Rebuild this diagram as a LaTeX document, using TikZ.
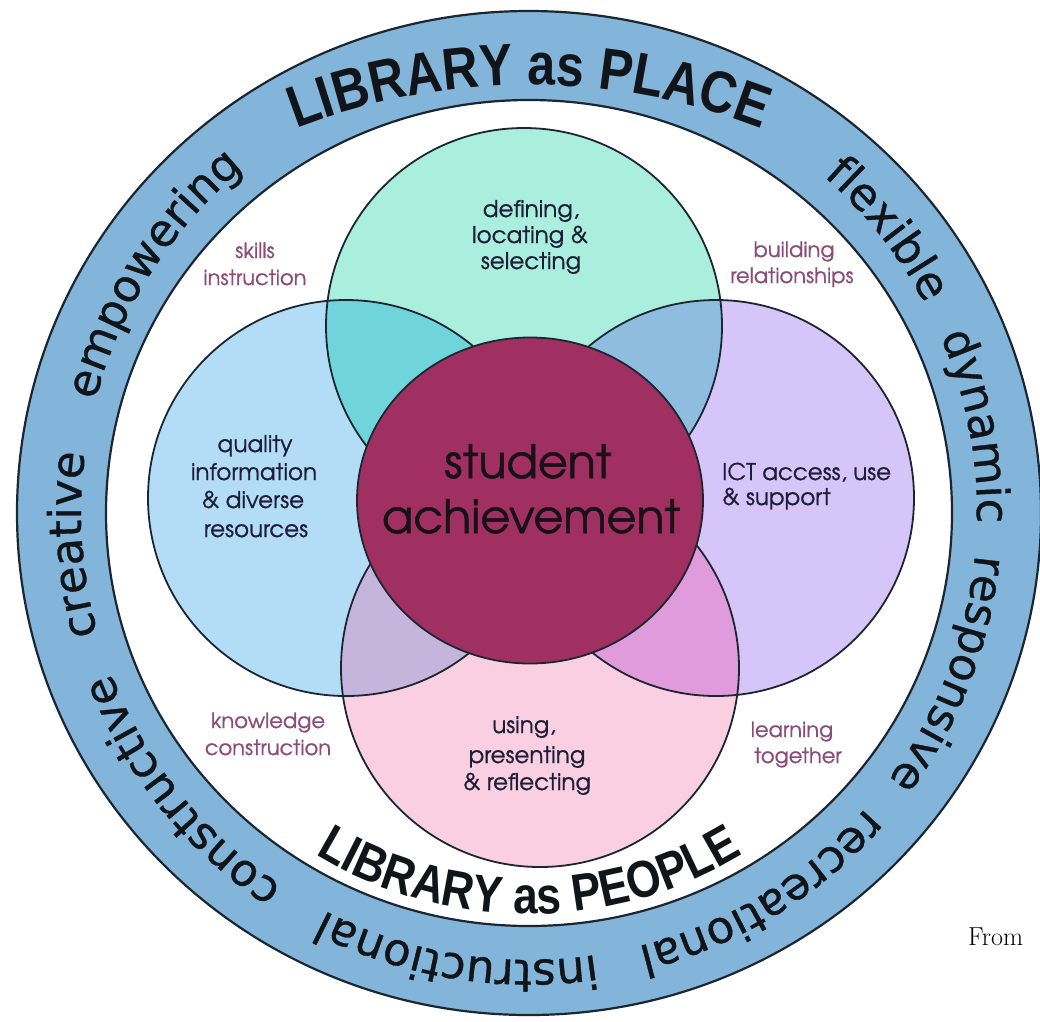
\documentclass[tikz,border=0pt]{standalone}
\usepackage{fontspec}
\usetikzlibrary{decorations.text}
\newfontfamily\gothic{texgyreadventor}[Extension=.otf, UprightFont=*-regular, BoldFont=*-bold, FakeBold=0.7]
\newfontfamily\gothicc{texgyreadventor}[Extension=.otf, UprightFont=*-regular, BoldFont=*-bold, FakeBold=1.1]
\newfontfamily\ringfont{DejaVu Sans}[FakeBold=0.8]
\newfontfamily\capfont{Liberation Sans}[FakeStretch=0.85]
\definecolor{ringblue}{HTML}{82B5D9}
\definecolor{cgreen}{HTML}{AAEEDD}
\definecolor{cblue}{HTML}{B3DDF7}
\definecolor{cpurple}{HTML}{D6C5F8}
\definecolor{cpink}{HTML}{F9CFE1}
\definecolor{cmaroon}{HTML}{A03062}
\definecolor{lensGB}{HTML}{6FD5DA}
\definecolor{lensGP}{HTML}{8FBDE0}
\definecolor{lensBK}{HTML}{C5B5DD}
\definecolor{lensPK}{HTML}{E09BDD}
\definecolor{linec}{HTML}{1C2630}
\definecolor{mauve}{HTML}{8A4C78}
\definecolor{navy}{HTML}{1E1E38}
\definecolor{corec}{HTML}{1A1018}
\definecolor{ringtxt}{HTML}{111418}
\newcommand\ringword[4]{% center angle, half span, font, text
  \path[shift={(529,-513)}, decorate, decoration={text along path, text align=center, text color=ringtxt, text={|#3|#4}}]
    ({#1+#2}:448pt and 447pt) arc[start angle={#1+#2}, end angle={#1-#2}, x radius=448pt, y radius=447pt];}
\tikzset{
  lbl/.style={anchor=base, inner sep=0pt, text=navy, font=\gothic\fontsize{23}{23}\selectfont},
  side/.style={anchor=base, inner sep=0pt, text=mauve, font=\gothic\fontsize{21}{21}\selectfont},
  core/.style={anchor=base, inner sep=0pt, text=corec, font=\gothicc\fontsize{46}{46}\selectfont},
  outl/.style={draw=linec, line width=1.8pt},
}
\def\rf{\ringfont\fontsize{45}{45}\selectfont}
\begin{document}
\begin{tikzpicture}[x=1pt, y=1pt]
\useasboundingbox (0,0) rectangle (1040,-1021);
\clip (0,0) rectangle (1040,-1021);
\fill[white] (0,0) rectangle (1040,-1021);
% outer ring
\coordinate (O) at (529,-513);
\fill[ringblue, even odd rule] (O) ellipse[x radius=512pt, y radius=502pt] (O) ellipse[x radius=423pt, y radius=413pt];
\draw[linec, line width=2.2pt] (O) ellipse[x radius=512pt, y radius=502pt];
\draw[linec, line width=2.2pt] (O) ellipse[x radius=423pt, y radius=413pt];
% circles
\coordinate (G) at (524,-326);
\coordinate (B) at (346,-498);
\coordinate (P) at (716,-498);
\coordinate (K) at (540,-668);
\coordinate (M) at (530,-500.5);
\fill[cgreen] (G) circle[radius=198pt];
\fill[cblue] (B) circle[radius=198pt];
\fill[cpurple] (P) circle[radius=198pt];
\fill[cpink] (K) circle[radius=199pt];
\begin{scope}\clip (G) circle[radius=198pt]; \fill[lensGB] (B) circle[radius=198pt]; \fill[lensGP] (P) circle[radius=198pt];\end{scope}
\begin{scope}\clip (K) circle[radius=199pt]; \fill[lensBK] (B) circle[radius=198pt]; \fill[lensPK] (P) circle[radius=198pt];\end{scope}
\draw[outl] (G) circle[radius=198pt];
\draw[outl] (B) circle[radius=198pt];
\draw[outl] (P) circle[radius=198pt];
\draw[outl] (K) circle[radius=199pt];
\fill[cmaroon] (M) ellipse[x radius=173pt, y radius=163pt];
\draw[outl] (M) ellipse[x radius=173pt, y radius=163pt];
% ring words
\path[shift={(529,-730)}, decorate, decoration={text along path, text align=center, text color=ringtxt, text={|\capfont\bfseries\fontsize{59}{59}\selectfont|LIBRARY as PLACE}}]
  (120:645pt) arc[start angle=120, end angle=60, radius=645pt];
\ringword{38.4}{20}{\rf}{flexible}
\ringword{11}{20}{\rf}{dynamic}
\ringword{-21}{25}{\rf}{responsive}
\ringword{-58.6}{25}{\rf}{recreational}
\ringword{-99.3}{25}{\rf}{instructional}
\ringword{-141.2}{25}{\rf}{constructive}
\ringword{184}{20}{\rf}{creative}
\ringword{147.5}{25}{\rf}{empowering}
\path[shift={(529,-513)}, decorate, decoration={text along path, text align=center, text color=ringtxt, text={|\capfont\bfseries\fontsize{52}{52}\selectfont|LIBRARY as PEOPLE}}]
  (-135:406pt and 401pt) arc[start angle=-135, end angle=-45, x radius=406pt, y radius=401pt];
% circle labels
\node[lbl] (g1) at (531,-217) {defining,};
\node[lbl] (g2) at (530,-243) {locating \&};
\node[lbl] (g3) at (531,-269) {selecting};
\node[lbl] (b1) at (255,-452) {quality};
\node[lbl] (b2) at (254,-480) {information};
\node[lbl] (b3) at (253,-508) {\& diverse};
\node[lbl] (b4) at (256,-537) {resources};
\node[lbl, anchor=base west] (p1) at (722,-480) {ICT access, use};
\node[lbl, anchor=base west] (p2) at (722,-505) {\& support};
\node[lbl] (k1) at (524,-733) {using,};
\node[lbl] (k2) at (527,-763) {presenting};
\node[lbl] (k3) at (527,-790) {\& reflecting};
% side labels
\node[side] (s1) at (255,-258) {skills};
\node[side] (s2) at (255,-285) {instruction};
\node[side] (r1) at (794,-257) {building};
\node[side] (r2) at (792,-283) {relationships};
\node[side] (c1) at (268,-728) {knowledge};
\node[side] (c2) at (268,-755) {construction};
\node[side] (t1) at (792,-737) {learning};
\node[side] (t2) at (798,-763) {together};
% core
\node[core] (m1) at (528,-478) {student};
\node[core] (m2) at (531,-533) {achievement};
% source note
\node[anchor=base west, inner sep=0pt, font=\rmfamily\fontsize{26}{26}\selectfont] (src) at (968,-945) {From};
\end{tikzpicture}
\end{document}
